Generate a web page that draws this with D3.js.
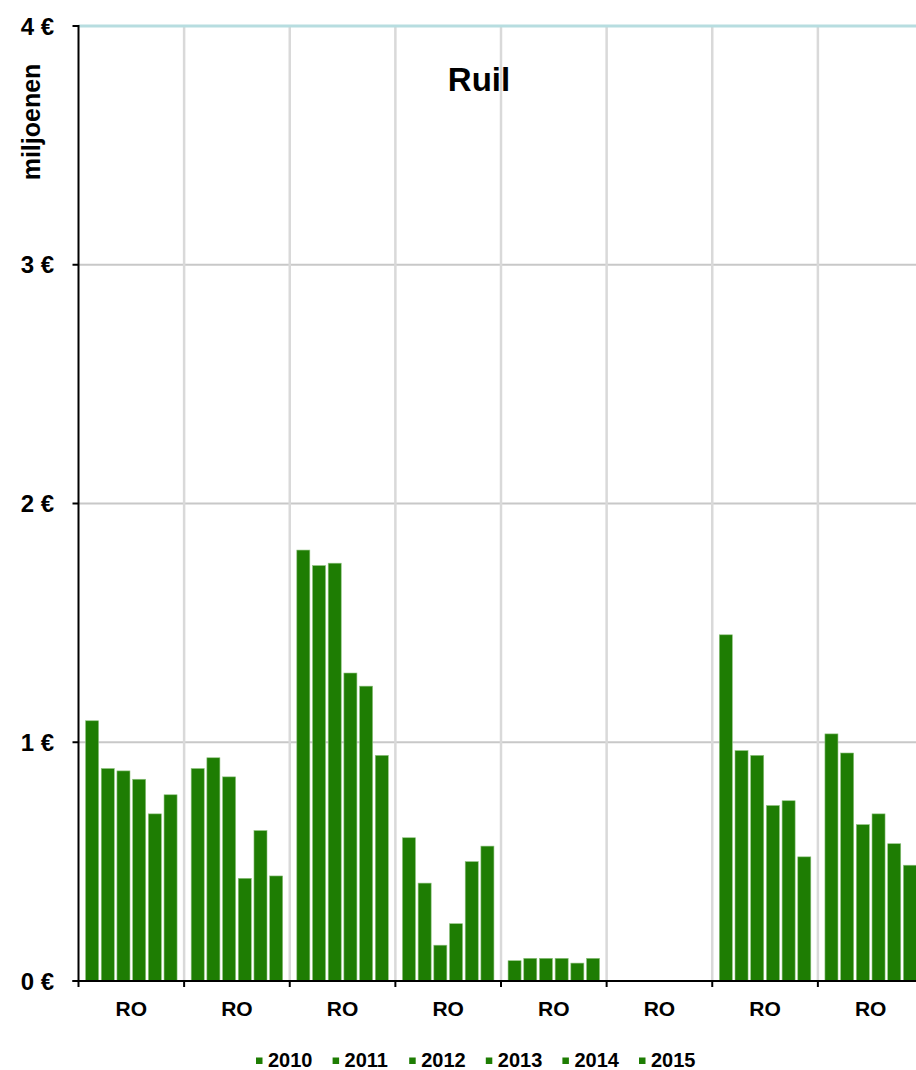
<!DOCTYPE html>
<html>
<head>
<meta charset="utf-8">
<script src="https://cdn.jsdelivr.net/npm/d3@7"></script>
<style>
  html, body { margin: 0; padding: 0; background: #fff; }
  svg text { font-family: "Liberation Sans", Arial, sans-serif; font-weight: bold; fill: #000; }
</style>
</head>
<body>
<svg id="chart" width="916" height="1070"></svg>
<script>
// ---- data ----
const categories = ["RO", "RO", "RO", "RO", "RO", "RO", "RO", "RO"];
const years = ["2010", "2011", "2012", "2013", "2014", "2015"];
const s2010 = [1.09, 0.89, 1.805, 0.60, 0.085, null, 1.45, 1.035];
const s2011 = [0.89, 0.935, 1.74, 0.41, 0.095, null, 0.965, 0.955];
const s2012 = [0.88, 0.855, 1.75, 0.15, 0.095, null, 0.945, 0.655];
const s2013 = [0.845, 0.43, 1.29, 0.24, 0.095, null, 0.735, 0.70];
const s2014 = [0.70, 0.63, 1.235, 0.50, 0.075, null, 0.755, 0.575];
const s2015 = [0.78, 0.44, 0.945, 0.565, 0.095, null, 0.52, 0.485];
const yTicks = [0, 1, 2, 3, 4];
const yTickLabels = ["0 €", "1 €", "2 €", "3 €", "4 €"];
const chartTitle = "Ruil";
const yTitle = "miljoenen";

const seriesValues = [s2010, s2011, s2012, s2013, s2014, s2015];

(function () {
// ---- layout ----
const svg = d3.select("#chart");
const pl = 78.5, pr = 923.5, pt = 26, pb = 981;
const barColor = "#1e7d03";

const x0 = d3.scaleBand().domain(d3.range(categories.length)).range([pl, pr]).padding(0);
const x1 = d3.scaleBand().domain(years).range([0, x0.bandwidth()]).paddingInner(0.17).paddingOuter(0.45);
const y = d3.scaleLinear().domain([0, 4]).range([pb, pt]);

// horizontal gridlines
svg.append("g").selectAll("line").data(yTicks.filter(t => t > 0 && t < 4)).join("line")
  .attr("x1", pl).attr("x2", pr)
  .attr("y1", d => y(d)).attr("y2", d => y(d))
  .attr("stroke", "#c8c8c8").attr("stroke-width", 2);

// vertical gridlines at category boundaries
svg.append("g").selectAll("line").data(d3.range(1, categories.length + 1)).join("line")
  .attr("x1", d => pl + d * x0.step()).attr("x2", d => pl + d * x0.step())
  .attr("y1", pt).attr("y2", pb)
  .attr("stroke", "#d9d9d9").attr("stroke-width", 2.5);

// top gridline (4)
svg.append("line")
  .attr("x1", pl).attr("x2", pr)
  .attr("y1", y(4)).attr("y2", y(4))
  .attr("stroke", "#b7dde0").attr("stroke-width", 3);

// bars
const barData = [];
seriesValues.forEach((vals, si) => {
  vals.forEach((v, ci) => {
    if (v !== null) barData.push({ year: years[si], cat: ci, value: v });
  });
});
svg.append("g").selectAll("rect").data(barData).join("rect")
  .attr("x", d => x0(d.cat) + x1(d.year))
  .attr("width", x1.bandwidth())
  .attr("y", d => y(d.value))
  .attr("height", d => y(0) - y(d.value))
  .attr("fill", barColor)
  .attr("stroke", "#8fc27f").attr("stroke-width", 0.6);

// y axis
const yAxis = svg.append("g");
yAxis.append("line").attr("x1", pl).attr("x2", pl).attr("y1", pt - 1).attr("y2", pb)
  .attr("stroke", "#000").attr("stroke-width", 2);
yAxis.selectAll("line.tick").data(yTicks).join("line").attr("class", "tick")
  .attr("x1", pl - 6).attr("x2", pl)
  .attr("y1", d => y(d)).attr("y2", d => y(d))
  .attr("stroke", "#000").attr("stroke-width", 2);
yAxis.selectAll("text").data(yTicks).join("text")
  .attr("x", 54).attr("y", d => y(d))
  .attr("dy", "0.36em")
  .attr("text-anchor", "end")
  .style("font-size", "24px")
  .text((d, i) => yTickLabels[i]);

// x axis
const xAxis = svg.append("g");
xAxis.append("line").attr("x1", pl - 6).attr("x2", pr).attr("y1", pb).attr("y2", pb)
  .attr("stroke", "#000").attr("stroke-width", 2);
xAxis.selectAll("line.tick").data(d3.range(0, categories.length + 1)).join("line").attr("class", "tick")
  .attr("x1", d => pl + d * x0.step()).attr("x2", d => pl + d * x0.step())
  .attr("y1", pb).attr("y2", pb + 6)
  .attr("stroke", "#000").attr("stroke-width", 2);
xAxis.selectAll("text").data(categories).join("text")
  .attr("x", (d, i) => x0(i) + x0.bandwidth() / 2)
  .attr("y", 1016)
  .attr("text-anchor", "middle")
  .style("font-size", "21px")
  .text(d => d);

// title
svg.append("text").attr("x", 479).attr("y", 91).attr("text-anchor", "middle")
  .style("font-size", "33px").text(chartTitle);

// y title
svg.append("text")
  .attr("transform", "translate(40,122) rotate(-90)")
  .attr("text-anchor", "middle")
  .style("font-size", "25px")
  .text(yTitle);

// legend
const legend = svg.append("g");
const legItems = legend.selectAll("g").data(years).join("g")
  .attr("transform", (d, i) => `translate(${256 + i * 76.6},0)`);
legItems.append("rect").attr("x", 0).attr("y", 1057.5).attr("width", 6.5).attr("height", 6.5)
  .attr("fill", barColor);
legItems.append("text").attr("x", 12).attr("y", 1067)
  .style("font-size", "20px").text(d => d);
})();
</script>
</body>
</html>
